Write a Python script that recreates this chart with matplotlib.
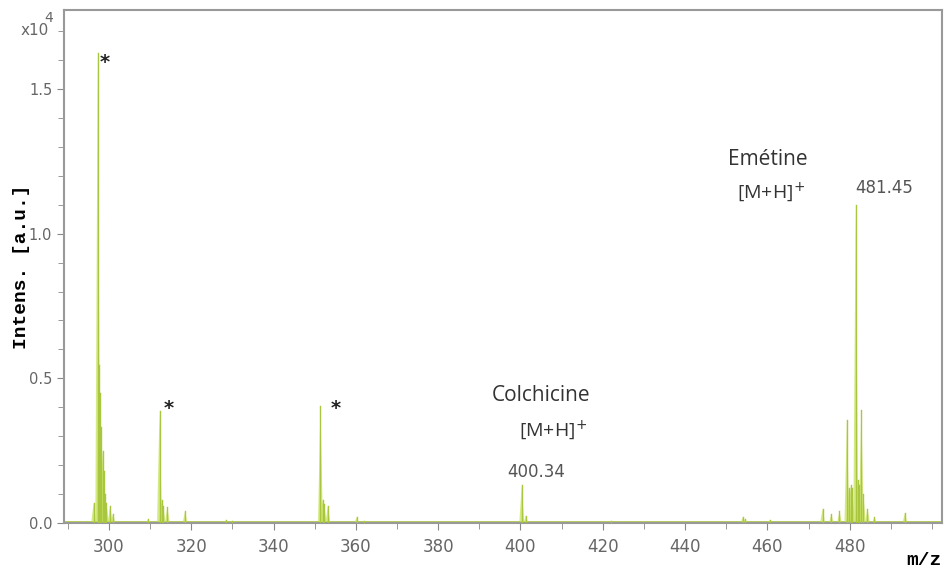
#!/usr/bin/env python3
"""MALDI spectrum: colchicine and emetine [M+H]+ peaks."""

import matplotlib

matplotlib.use("Agg")
import matplotlib.pyplot as plt
from matplotlib.ticker import MultipleLocator

# peak positions (m/z) and intensities (x10^4)
peak_mz = [
    296.3, 297.3, 297.6, 297.9, 298.2, 298.5, 298.8, 299.1, 299.4, 300.3, 301.0, 309.5,
    312.3, 312.8, 313.2, 314.2, 318.5, 328.5, 330.0,
    351.4, 351.9, 352.3, 353.2, 360.2, 362.0,
    400.3, 401.3, 422.0, 454.0, 454.6, 460.5,
    473.4, 475.5, 477.5, 479.3, 479.8, 480.2, 480.6, 481.45, 481.9, 482.3, 482.8, 483.3, 484.3, 486.0, 493.4,
]
peak_int = [
    0.07, 1.625, 0.546, 0.45, 0.33, 0.25, 0.18, 0.10, 0.07, 0.06, 0.03, 0.012,
    0.387, 0.08, 0.06, 0.055, 0.04, 0.01, 0.008,
    0.404, 0.08, 0.065, 0.06, 0.02, 0.008,
    0.131, 0.025, 0.008, 0.02, 0.015, 0.01,
    0.05, 0.03, 0.04, 0.356, 0.12, 0.13, 0.12, 1.10, 0.15, 0.13, 0.39, 0.10, 0.05, 0.02, 0.035,
]

# labelled x ticks (500 is drawn as a tick only, "m/z" sits there)
x_ticks = [300, 320, 340, 360, 380, 400, 420, 440, 460, 480]
y_ticks = [0.0, 0.5, 1.0, 1.5]

star_mz = [299.0, 314.6, 355.1]
star_int = [1.59, 0.397, 0.397]

FILL = "#c8e35c"
EDGE = "#a9c640"
HALF_W = 0.6

fig = plt.figure(figsize=(9.47, 5.74), dpi=100)
ax = fig.add_axes([0.0676, 0.0889, 0.9271, 0.8937])

ax.axhline(0.004, color=EDGE, linewidth=1.2, zorder=1)
for mz, h in zip(peak_mz, peak_int):
    xs = [mz - HALF_W, mz, mz + HALF_W]
    ys = [0, h, 0]
    ax.fill(xs, ys, color=FILL, alpha=0.75, linewidth=0, zorder=2)
    ax.plot([mz, mz], [0, h], color=EDGE, linewidth=1.0, zorder=3)

for x, y in zip(star_mz, star_int):
    ax.text(x, y, "*", ha="center", va="center", fontsize=14, fontweight="bold", color="#222")

txt = dict(family="Open Sans", color="#333", ha="center", va="center")
ax.text(404.9, 0.44, "Colchicine", fontsize=15, **txt)
ax.text(407.8, 0.321, "[M+H]$^{+}$", fontsize=14, **txt)
ax.text(460.1, 1.255, "Emétine", fontsize=15, **txt)
ax.text(460.8, 1.144, "[M+H]$^{+}$", fontsize=14, **txt)
num = dict(family="DejaVu Sans", color="#555", fontsize=12, va="center")
ax.text(403.7, 0.175, "400.34", ha="center", **num)
ax.text(481.4, 1.158, "481.45", ha="left", **num)

ax.set_xlim(289.1, 502.4)
ax.set_ylim(0, 1.773)
ax.set_xticks(x_ticks, [str(t) for t in x_ticks])
ax.xaxis.set_minor_locator(MultipleLocator(10))
ax.set_yticks(y_ticks, [f"{t:.1f}" for t in y_ticks])
ax.yaxis.set_minor_locator(MultipleLocator(0.1))

for side in ax.spines.values():
    side.set_color("#999")
    side.set_linewidth(1.5)
ax.tick_params(which="both", direction="out", color="#888", labelcolor="#666")
ax.tick_params(which="major", length=5)
ax.tick_params(which="minor", length=4)
ax.tick_params(axis="x", labelsize=12, pad=6)
ax.tick_params(axis="y", labelsize=10.5)

ax.set_ylabel("Intens. [a.u.]", family="Liberation Mono", fontweight="bold", fontsize=14)
ax.yaxis.set_label_coords(-0.039, 0.5)
fig.text(0.994, 0.008, "m/z", family="Liberation Mono", fontweight="bold", fontsize=14, ha="right", va="bottom")
fig.text(0.022, 0.946, "x10", fontsize=11, color="#666", ha="left", va="center")
fig.text(0.047, 0.968, "4", fontsize=10, color="#666", ha="left", va="center")

fig.savefig("out.png", dpi=100)
